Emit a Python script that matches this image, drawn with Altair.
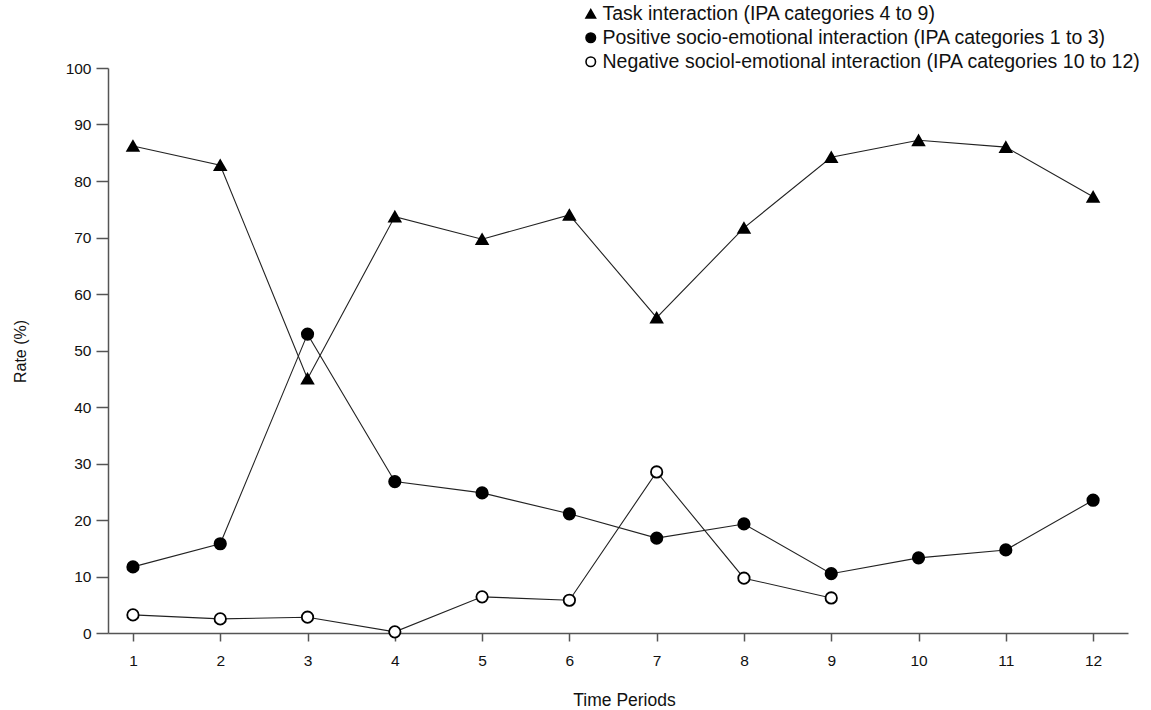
import altair as alt
import pandas as pd

periods = list(range(1, 13))
task = [86.2, 82.8, 45.0, 73.7, 69.7, 74.0, 55.8, 71.7, 84.2, 87.2, 86.0, 77.2]
positive = [11.7, 15.8, 52.9, 26.8, 24.8, 21.1, 16.8, 19.3, 10.5, 13.3, 14.7, 23.5]
negative_periods = list(range(1, 10))
negative = [3.2, 2.5, 2.8, 0.2, 6.4, 5.8, 28.5, 9.7, 6.2]

s_task = "Task interaction (IPA categories 4 to 9)"
s_pos = "Positive socio-emotional interaction (IPA categories 1 to 3)"
s_neg = "Negative sociol-emotional interaction (IPA categories 10 to 12)"
series_order = [s_task, s_pos, s_neg]

rows = []
for p, v in zip(periods, task):
    rows.append({"period": p, "rate": v, "series": s_task})
for p, v in zip(periods, positive):
    rows.append({"period": p, "rate": v, "series": s_pos})
for p, v in zip(negative_periods, negative):
    rows.append({"period": p, "rate": v, "series": s_neg})
df = pd.DataFrame(rows)

FONT = "Liberation Sans"
FS = 15.5
TXT = "#111111"

x = alt.X(
    "period:Q",
    scale=alt.Scale(domain=[0.714, 12.4], nice=False, zero=False),
    axis=alt.Axis(
        values=periods, title="Time Periods", grid=False, format="d",
        tickSize=8, labelPadding=12, titleX=516, titleY=67,
        titleAlign="center", titleBaseline="middle",
        labelFont=FONT, labelFontSize=FS, labelColor=TXT,
        titleFont=FONT, titleFontSize=17.5, titleColor=TXT, titleFontWeight="normal",
        domainColor="#555555", tickColor="#555555", domainWidth=1.5, tickWidth=1.5,
    ),
)
y = alt.Y(
    "rate:Q",
    scale=alt.Scale(domain=[0, 100], nice=False),
    axis=alt.Axis(
        values=list(range(0, 101, 10)), title="Rate (%)", grid=False,
        tickSize=12, labelPadding=5, titleX=-88, titleY=283, titleAngle=-90,
        titleAlign="center", titleBaseline="middle",
        labelFont=FONT, labelFontSize=FS, labelColor=TXT,
        titleFont=FONT, titleFontSize=16, titleColor=TXT, titleFontWeight="normal",
        domainColor="#555555", tickColor="#555555", domainWidth=1.5, tickWidth=1.5,
    ),
)

legend = alt.Legend(
    title=None, orient="none", legendX=473, legendY=-64,
    labelFont=FONT, labelFontSize=19.5, labelColor=TXT,
    symbolSize=90, symbolStrokeColor="black", symbolStrokeWidth=1.6,
    rowPadding=3, labelOffset=2, labelLimit=800,
)

lines = alt.Chart(df).mark_line(color="#222222", strokeWidth=1.1).encode(
    x=x, y=y, detail="series:N", order="period:Q"
)

points = alt.Chart(df).mark_point(
    strokeWidth=1.8, opacity=1, filled=False, size=130
).encode(
    x=x,
    y=y,
    shape=alt.Shape(
        "series:N",
        scale=alt.Scale(domain=series_order, range=["triangle-up", "circle", "circle"]),
        legend=legend,
    ),
    fill=alt.Fill(
        "series:N",
        scale=alt.Scale(domain=series_order, range=["black", "black", "white"]),
        legend=legend,
    ),
    stroke=alt.Stroke(
        "series:N",
        scale=alt.Scale(domain=series_order, range=["black", "black", "black"]),
        legend=legend,
    ),
)

chart = (
    alt.layer(lines, points)
    .properties(
        width=1020, height=565,
        autosize=alt.AutoSizeParams(type="none"),
        padding={"left": 108, "top": 68, "right": 23, "bottom": 77},
        background="white",
    )
    .configure_view(stroke=None)
)

chart.save("out.html", embed_options={"renderer": "svg", "actions": False})
